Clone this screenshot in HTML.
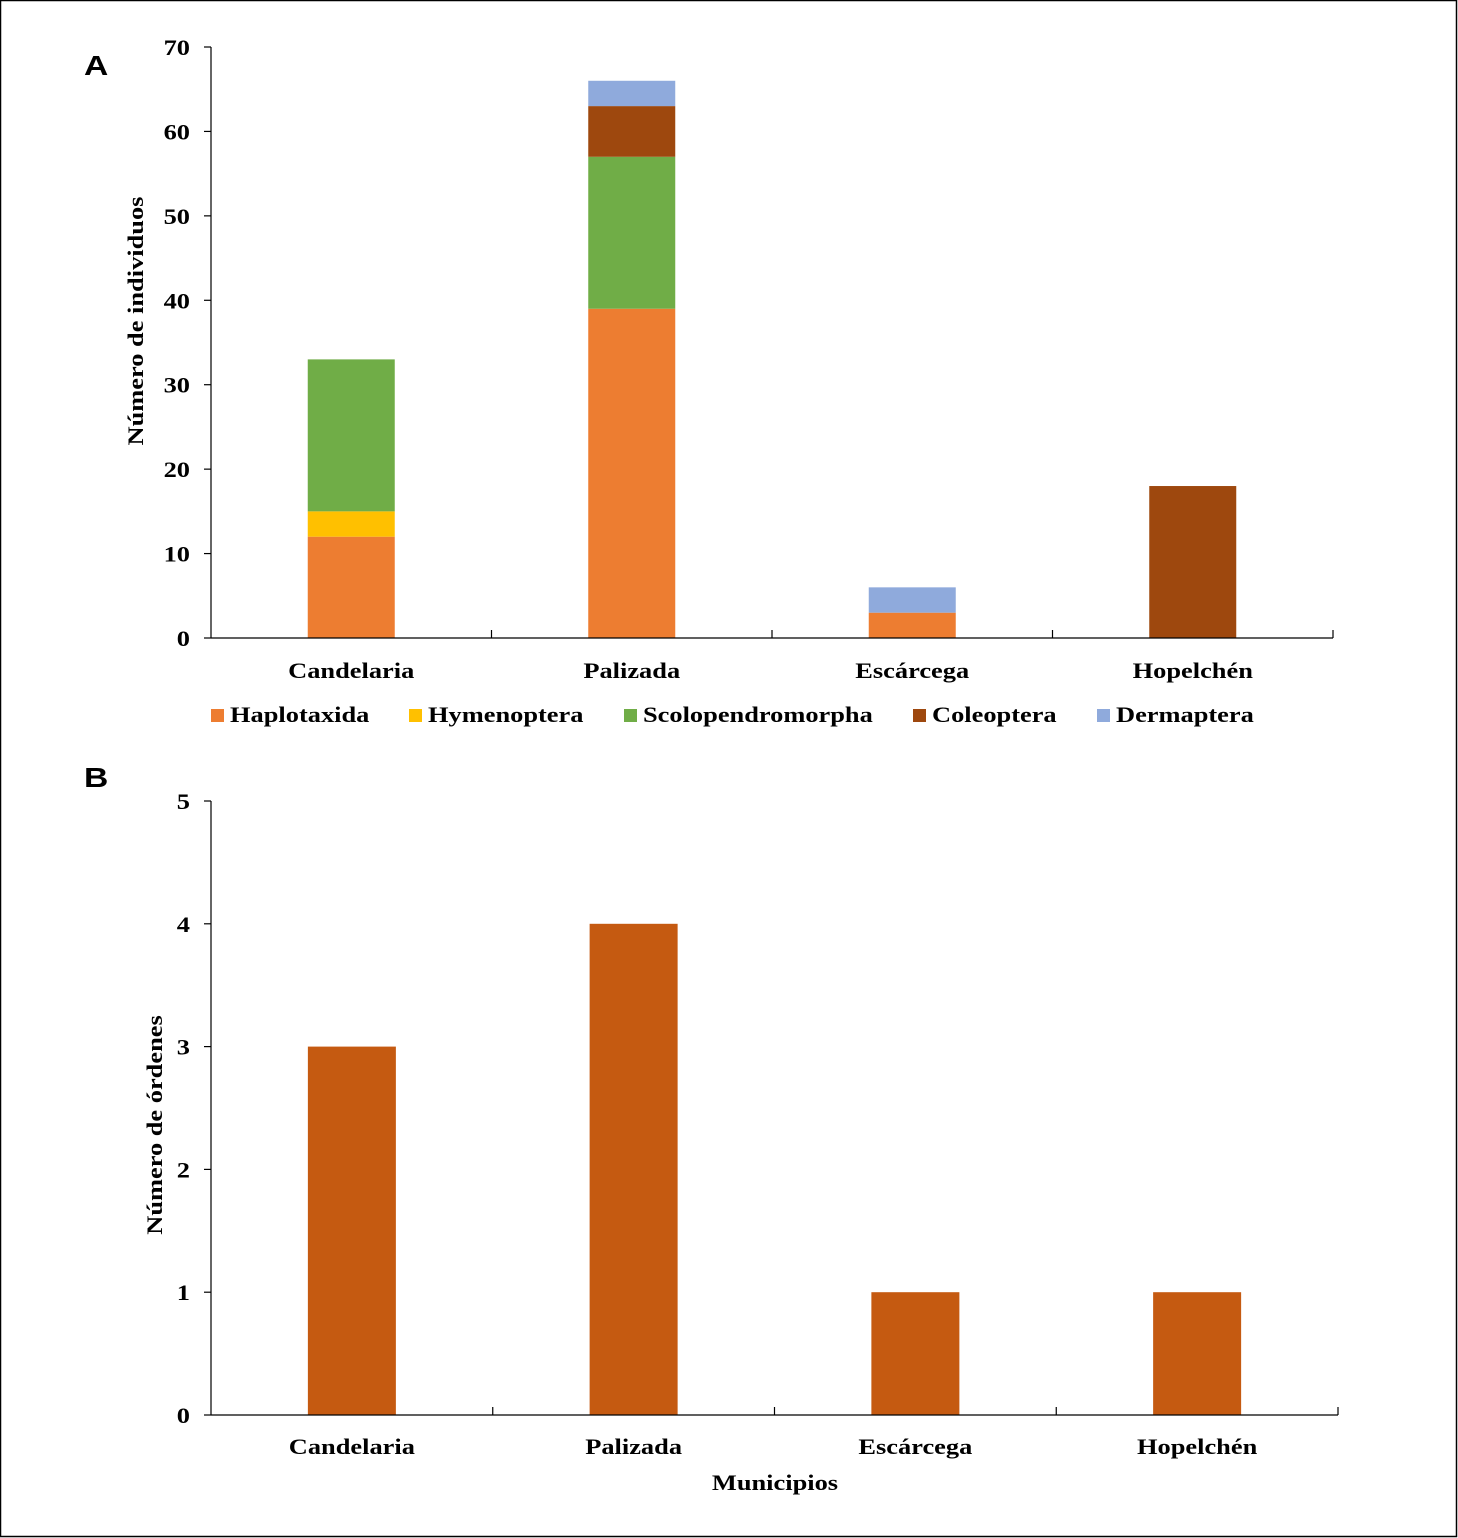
<!DOCTYPE html>
<html><head><meta charset="utf-8"><style>
html,body{margin:0;padding:0;background:#fff}
svg{display:block;font-family:"Liberation Serif",serif;font-weight:bold}
</style></head><body>
<svg id="c" width="1458" height="1538" xmlns="http://www.w3.org/2000/svg">
<rect x="0.5" y="0.5" width="1456" height="1536" fill="#fff" stroke="#000" stroke-width="1.5"/>
</svg>
<script>
const categories = ["Candelaria","Palizada","Escárcega","Hopelchén"];
const seriesNames = ["Haplotaxida","Hymenoptera","Scolopendromorpha","Coleoptera","Dermaptera"];
const seriesColors = ["#ED7D31","#FFC000","#70AD47","#9E480E","#8FAADC"];
const haplotaxida = [12,39,3,0];
const hymenoptera = [3,0,0,0];
const scolopendromorpha = [18,18,0,0];
const coleoptera = [0,6,0,18];
const dermaptera = [0,3,3,0];
const ticksA = [0,10,20,30,40,50,60,70];
const ordenes = [3,4,1,1];
const ticksB = [0,1,2,3,4,5];

const NS="http://www.w3.org/2000/svg";
const svg=document.getElementById('c');
function el(t,a,txt){const e=document.createElementNS(NS,t);for(const k in a)e.setAttribute(k,a[k]);if(txt!==undefined)e.textContent=txt;svg.appendChild(e);
  if(t==='text'){const w=e.getComputedTextLength();e.setAttribute('textLength',w*1.2);e.setAttribute('lengthAdjust','spacingAndGlyphs');}
  return e;}

// Chart A
const A={x0:211,x1:1333,y0:638,y1:47,max:70};
const yA=v=>A.y0-(v/A.max)*(A.y0-A.y1);
const bwA=(A.x1-A.x0)/categories.length;
const xA=i=>A.x0+bwA*(i+0.5);
const stack=[haplotaxida,hymenoptera,scolopendromorpha,coleoptera,dermaptera];
categories.forEach((c,i)=>{
  let base=0;
  stack.forEach((s,j)=>{
    const v=s[i]; if(!v) return;
    const r=el('rect',{x:xA(i)-43.5,y:yA(base+v),width:87,height:yA(base)-yA(base+v),fill:seriesColors[j]});
    
    
    base+=v;
  });
  const t=el('text',{x:xA(i),y:678,'text-anchor':'middle','font-size':22},c);
  
  
});
ticksA.forEach(v=>{
  el('line',{x1:204,x2:211,y1:yA(v),y2:yA(v),stroke:'#000','stroke-width':1.2});
  const t=el('text',{x:190,y:yA(v)+8,'text-anchor':'end','font-size':22},v);
  
  
});
el('line',{x1:A.x0,x2:A.x0,y1:A.y1,y2:A.y0,stroke:'#000','stroke-width':1.2});
el('line',{x1:A.x0,x2:A.x1,y1:A.y0,y2:A.y0,stroke:'#000','stroke-width':1.2});
for(let i=1;i<=categories.length;i++) el('line',{x1:A.x0+bwA*i,x2:A.x0+bwA*i,y1:A.y0,y2:A.y0-8,stroke:'#000','stroke-width':1.2});
let ta=el('text',{x:0,y:0,'text-anchor':'middle','font-size':22,transform:'translate(143,321) rotate(-90)'},'Número de individuos');

let la=el('text',{x:84,y:75,'font-size':28,'font-family':'Liberation Sans, sans-serif'},'A');

const legX=[211,409,624,913,1097];
seriesNames.forEach((n,j)=>{
  const r=el('rect',{x:legX[j],y:709,width:13,height:13,fill:seriesColors[j]});
  
  
  const t=el('text',{x:legX[j]+19,y:722,'font-size':22},n);
  
  
});

// Chart B
const B={x0:211,x1:1338,y0:1415,y1:801,max:5};
const yB=v=>B.y0-(v/B.max)*(B.y0-B.y1);
const bwB=(B.x1-B.x0)/categories.length;
const xB=i=>B.x0+bwB*(i+0.5);
categories.forEach((c,i)=>{
  const r=el('rect',{x:xB(i)-44,y:yB(ordenes[i]),width:88,height:yB(0)-yB(ordenes[i]),fill:'#C55A11'});
  
  
  const t=el('text',{x:xB(i),y:1454,'text-anchor':'middle','font-size':22},c);
  
  
});
ticksB.forEach(v=>{
  el('line',{x1:204,x2:211,y1:yB(v),y2:yB(v),stroke:'#000','stroke-width':1.2});
  const t=el('text',{x:190,y:yB(v)+8,'text-anchor':'end','font-size':22},v);
  
  
});
el('line',{x1:B.x0,x2:B.x0,y1:B.y1,y2:B.y0,stroke:'#000','stroke-width':1.2});
el('line',{x1:B.x0,x2:B.x1,y1:B.y0,y2:B.y0,stroke:'#000','stroke-width':1.2});
for(let i=1;i<=categories.length;i++) el('line',{x1:B.x0+bwB*i,x2:B.x0+bwB*i,y1:B.y0,y2:B.y0-8,stroke:'#000','stroke-width':1.2});
let tb=el('text',{x:0,y:0,'text-anchor':'middle','font-size':22,transform:'translate(162,1125) rotate(-90)'},'Número de órdenes');

let xt=el('text',{x:775,y:1490,'text-anchor':'middle','font-size':22},'Municipios');

let lb=el('text',{x:84,y:787,'font-size':28,'font-family':'Liberation Sans, sans-serif'},'B');

</script>
</body></html>
